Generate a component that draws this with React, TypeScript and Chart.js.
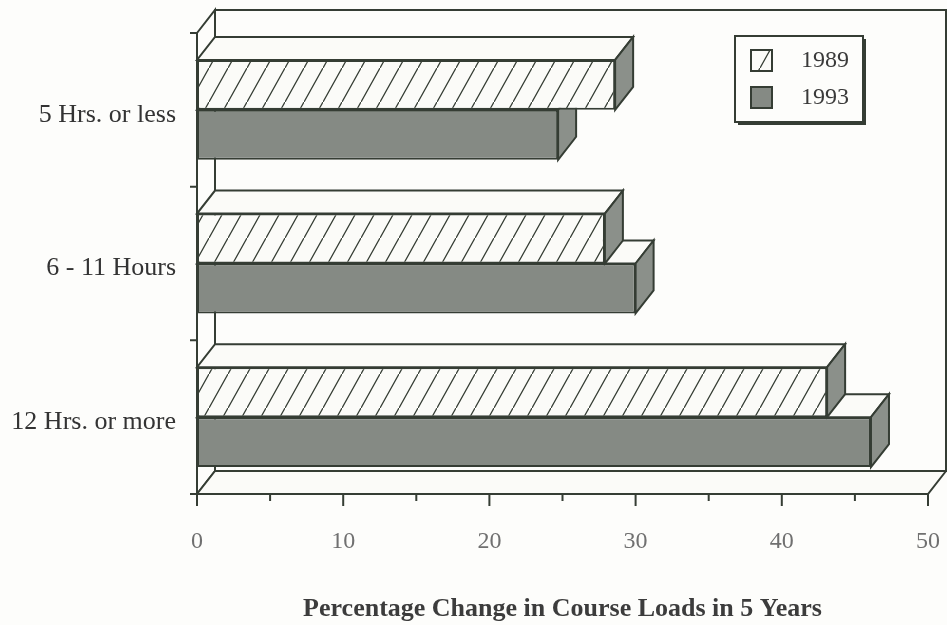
import React, { useEffect, useRef } from 'react';
import { Chart, registerables } from 'chart.js';
Chart.register(...registerables);

const categories = ['5 Hrs. or less', '6 - 11 Hours', '12 Hrs. or more'];
const series1989 = [28.6, 27.9, 43.1];
const series1993 = [24.7, 30.0, 46.1];
const seriesLabels = ['1989', '1993'];
const xMin = 0;
const xMax = 50;
const xStep = 10;
const axisTitle = 'Percentage Change in Course Loads in 5 Years';

const INK = '#353d34';
const GREY = '#858a84';
const SIDE = '#8b908a';
const FACE = '#fbfbf8';
const BG = '#fdfdfb';
const DX = 18;
const DY = -23;
const SERIF = '"Liberation Serif", "Times New Roman", serif';

function makeHatch(): CanvasPattern | string {
  const c = document.createElement('canvas');
  const W = 19, H = 34;
  c.width = W; c.height = H;
  const g = c.getContext('2d');
  if (!g) return FACE;
  g.fillStyle = FACE;
  g.fillRect(0, 0, W, H);
  g.strokeStyle = INK;
  g.lineWidth = 1.3;
  g.beginPath();
  for (const k of [-1, 0, 1]) {
    g.moveTo(k * W, H - k * H);
    g.lineTo(k * W + W, -k * H);
  }
  g.stroke();
  return g.createPattern(c, 'repeat') || FACE;
}

function poly(ctx: CanvasRenderingContext2D, pts: number[][], fill: any) {
  ctx.beginPath();
  ctx.moveTo(pts[0][0], pts[0][1]);
  for (let i = 1; i < pts.length; i++) ctx.lineTo(pts[i][0], pts[i][1]);
  ctx.closePath();
  if (fill) { ctx.fillStyle = fill; ctx.fill(); }
  ctx.stroke();
}

const threeD = {
  id: 'threeD',
  beforeDraw(chart: any) {
    const { ctx, width, height } = chart;
    ctx.save();
    ctx.fillStyle = BG;
    ctx.fillRect(0, 0, width, height);
    ctx.restore();
  },
  beforeDatasetsDraw(chart: any) {
    const { ctx, chartArea: a } = chart;
    ctx.save();
    ctx.strokeStyle = INK;
    ctx.lineWidth = 2;
    ctx.lineJoin = 'miter';
    // back wall
    poly(ctx, [[a.left + DX, a.top + DY], [a.right + DX, a.top + DY], [a.right + DX, a.bottom + DY], [a.left + DX, a.bottom + DY]], BG);
    // left wall
    poly(ctx, [[a.left, a.top], [a.left + DX, a.top + DY], [a.left + DX, a.bottom + DY], [a.left, a.bottom]], null);
    // floor
    poly(ctx, [[a.left, a.bottom], [a.right, a.bottom], [a.right + DX, a.bottom + DY], [a.left + DX, a.bottom + DY]], FACE);
    // category ticks on left axis
    const n = chart.data.labels.length;
    ctx.beginPath();
    for (let i = 0; i <= n; i++) {
      const y = a.top + (i * (a.bottom - a.top)) / n;
      ctx.moveTo(a.left - 7, y);
      ctx.lineTo(a.left, y);
    }
    ctx.stroke();
    // bar top & side faces, lower datasets first
    for (let di = chart.data.datasets.length - 1; di >= 0; di--) {
      const meta = chart.getDatasetMeta(di);
      meta.data.forEach((bar: any) => {
        const p = bar.getProps(['x', 'y', 'base', 'height'], true);
        const top = p.y - p.height / 2;
        const bot = p.y + p.height / 2;
        const x0 = p.base;
        const x1 = p.x;
        poly(ctx, [[x0, top], [x1, top], [x1 + DX, top + DY], [x0 + DX, top + DY]], FACE);
        poly(ctx, [[x1, top], [x1 + DX, top + DY], [x1 + DX, bot + DY], [x1, bot]], SIDE);
      });
    }
    ctx.restore();
  },
  afterDraw(chart: any) {
    const { ctx, chartArea: a } = chart;
    const xs = chart.scales.x;
    ctx.save();
    ctx.strokeStyle = INK;
    ctx.lineWidth = 2;
    // x ticks (major + minor)
    ctx.beginPath();
    for (let v = xMin; v <= xMax; v += xStep / 2) {
      const px = xs.getPixelForValue(v);
      const len = v % xStep === 0 ? 12 : 7;
      ctx.moveTo(px, a.bottom);
      ctx.lineTo(px, a.bottom + len);
    }
    ctx.stroke();
    // legend
    const bx = 735, by = 36, bw = 128, bh = 86;
    ctx.fillStyle = INK;
    ctx.fillRect(bx + 3, by + 3, bw, bh);
    ctx.fillStyle = BG;
    ctx.fillRect(bx, by, bw, bh);
    ctx.strokeRect(bx, by, bw, bh);
    ctx.font = '24px ' + SERIF;
    ctx.textBaseline = 'middle';
    ctx.textAlign = 'left';
    chart.data.datasets.forEach((ds: any, i: number) => {
      const sy = by + 14 + i * 37;
      ctx.fillStyle = ds.backgroundColor;
      ctx.fillRect(bx + 16, sy, 21, 21);
      ctx.strokeRect(bx + 16, sy, 21, 21);
      ctx.fillStyle = '#3a3a3a';
      ctx.fillText(ds.label, bx + 66, sy + 11);
    });
    ctx.restore();
  },
};

export default function App() {
  const ref = useRef<HTMLCanvasElement>(null);
  useEffect(() => {
    if (!ref.current) return;
    const hatch = makeHatch();
    const chart = new Chart(ref.current, {
      type: 'bar',
      data: {
        labels: categories,
        datasets: [
          { label: seriesLabels[0], data: series1989, backgroundColor: hatch as any, borderColor: INK, borderWidth: 2, borderSkipped: false, categoryPercentage: 0.65, barPercentage: 1 },
          { label: seriesLabels[1], data: series1993, backgroundColor: GREY, borderColor: INK, borderWidth: 2, borderSkipped: false, categoryPercentage: 0.65, barPercentage: 1 },
        ],
      },
      options: {
        indexAxis: 'y',
        responsive: false,
        animation: false,
        layout: { padding: { top: 33, right: 19, left: 0, bottom: 0 } },
        scales: {
          x: {
            min: xMin,
            max: xMax,
            ticks: { stepSize: xStep, font: { family: SERIF, size: 24 }, color: '#707070', padding: 33 },
            grid: { display: false, drawTicks: false },
            border: { display: false },
            title: { display: true, text: axisTitle, font: { family: SERIF, size: 26, weight: 'bold' }, color: '#3c3c3c', padding: { top: 0, bottom: 0 } },
            afterFit: (s: any) => { s.height = 131; s.paddingLeft = 0; s.paddingRight = 0; },
          },
          y: {
            ticks: { font: { family: SERIF, size: 26 }, color: '#333333', padding: 21, labelOffset: 5 },
            grid: { display: false, drawTicks: false },
            border: { display: false },
            afterFit: (s: any) => { s.width = 197; s.paddingTop = 0; s.paddingBottom = 0; },
          },
        },
        plugins: { legend: { display: false }, tooltip: { enabled: false } },
      } as any,
      plugins: [threeD],
    });
    return () => chart.destroy();
  }, []);
  return (
    <div style={{ position: 'absolute', left: 0, top: 0, width: 947, height: 625, background: BG }}>
      <canvas ref={ref} width={947} height={625} style={{ display: 'block', width: 947, height: 625 }} />
    </div>
  );
}
